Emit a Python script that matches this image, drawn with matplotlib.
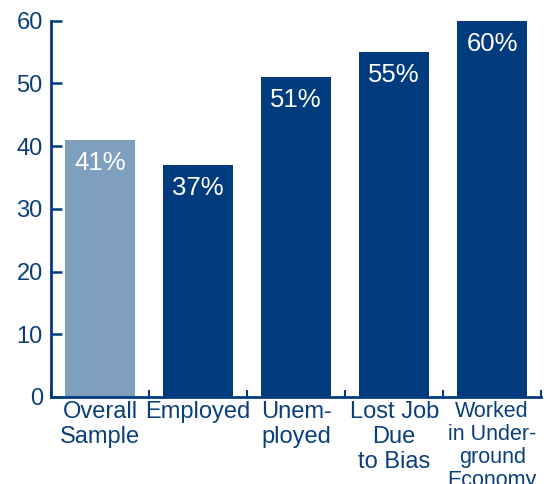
import matplotlib.pyplot as plt
import numpy as np

plt.rcParams["font.family"] = ["Liberation Sans", "DejaVu Sans"]

categories = ["Overall\nSample", "Employed", "Unem-\nployed", "Lost Job\nDue\nto Bias",
              "Worked\nin Under-\nground\nEconomy"]
values = [41, 37, 51, 55, 60]
y_ticks = [0, 10, 20, 30, 40, 50, 60]

NAVY = "#003C7D"
LIGHT = "#7F9FBF"
TEXT = "#0A3F7A"

fig = plt.figure(figsize=(5.5, 4.84), dpi=100)
ax = fig.add_axes([0.093, 0.180, 0.891, 0.777])

x = np.arange(len(values))
colors = [LIGHT] + [NAVY] * (len(values) - 1)
bars = ax.bar(x, values, width=0.72, color=colors, edgecolor="none", zorder=1)

for xi, v in zip(x, values):
    ax.annotate(f"{v}%", (xi, v), xytext=(0, -8), textcoords="offset points",
                ha="center", va="top", color="white", fontsize=18.5)

ax.set_xlim(-0.5, 4.5)
ax.set_ylim(0, 60)
ax.set_yticks(y_ticks)
ax.set_xticks(x)
ax.set_xticklabels(categories, linespacing=1.18)
ax.set_xticks(np.arange(-0.5, 4.6, 1), minor=True)

for sp in ["top", "right"]:
    ax.spines[sp].set_visible(False)
for sp in ["left", "bottom"]:
    ax.spines[sp].set_color(NAVY)
    ax.spines[sp].set_linewidth(2)

ax.tick_params(axis="y", direction="in", length=8, width=1.8, color=NAVY,
               labelsize=17, labelcolor=TEXT, pad=6)
ax.tick_params(axis="x", which="major", length=0, labelsize=17, labelcolor=TEXT, pad=3)
ax.tick_params(axis="x", which="minor", direction="in", length=5, width=1.5, color=NAVY)

labels = ax.get_xticklabels()
labels[-1].set_fontsize(15.5)
labels[-1].set_linespacing(1.13)

fig.savefig("out.png", dpi=100)
